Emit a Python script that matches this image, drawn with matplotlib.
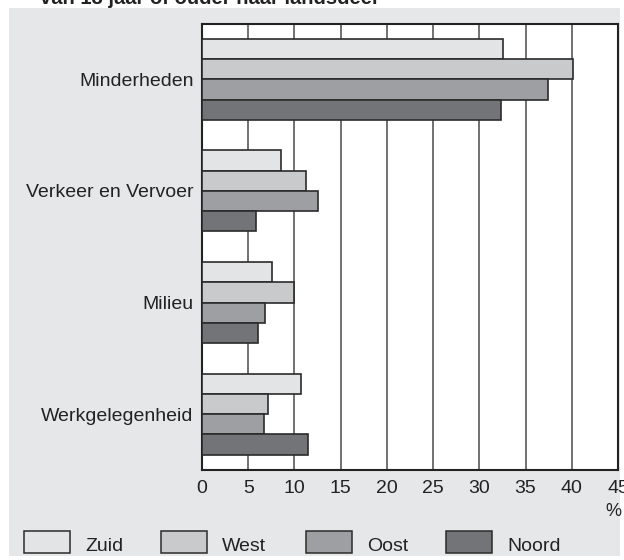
import matplotlib
matplotlib.use("Agg")
import matplotlib.pyplot as plt
from matplotlib.patches import Rectangle
import numpy as np

plt.rcParams['font.family'] = ['Liberation Sans', 'DejaVu Sans']

categories = ["Minderheden", "Verkeer en Vervoer", "Milieu", "Werkgelegenheid"]
series = ["Zuid", "West", "Oost", "Noord"]
zuid = [32.6, 8.5, 7.6, 10.7]
west = [40.1, 11.2, 10.0, 7.1]
oost = [37.4, 12.6, 6.8, 6.7]
noord = [32.3, 5.8, 6.1, 11.5]
values = [zuid, west, oost, noord]
xticks = [0, 5, 10, 15, 20, 25, 30, 35, 40, 45]
colors = ["#e3e4e6", "#c9cacc", "#9e9fa2", "#737477"]
title = "van 18 jaar of ouder naar landsdeel"

W, H = 624, 560
fig = plt.figure(figsize=(W / 100, H / 100), dpi=100)
fig.patch.set_facecolor("white")

# gray panel
fig.patches.append(Rectangle((9 / W, (H - 556) / H), (620 - 9) / W, (556 - 8) / H,
                             transform=fig.transFigure, facecolor="#e6e7e8",
                             edgecolor="none", zorder=-10))

left, right, top, bottom = 202, 618, 23.5, 470
ax = fig.add_axes([left / W, (H - bottom) / H, (right - left) / W, (bottom - top) / H])
ax.set_facecolor("white")

bh = 0.1815
y = np.arange(len(categories))
for i, (vals, c) in enumerate(zip(values, colors)):
    ax.barh(y + (i - 1.5) * bh, vals, height=bh, color=c, edgecolor="#2b2b2b",
            linewidth=1.2, zorder=3)

ax.set_xlim(0, 45)
ax.set_ylim(3.5, -0.5)
ax.set_xticks(xticks)
ax.set_xticklabels([str(t) for t in xticks], fontsize=14, color="#222222")
ax.set_yticks(y)
ax.set_yticklabels(categories, fontsize=14, color="#222222")
ax.tick_params(axis="both", length=0)
ax.tick_params(axis="x", pad=7)
ax.tick_params(axis="y", pad=6)
for t in xticks[1:-1]:
    ax.axvline(t, color="#4a4a4a", linewidth=1.1, zorder=1)
for s in ax.spines.values():
    s.set_color("#222222")
    s.set_linewidth(1.5)

# percent sign
fig.text(613 / W, 1 - 516 / H, "%", ha="center", va="baseline", fontsize=13, color="#222222")

# title (cut off at the top, as in the reference)
fig.text(40 / W, 1 - 4 / H, title, ha="left", va="baseline", fontsize=14.5,
         fontweight="bold", color="#222222")

# legend
box_x = [24, 161, 306, 446]
for bx, c, name in zip(box_x, colors, series):
    fig.patches.append(Rectangle((bx / W, 1 - 553 / H), 46 / W, 22 / H,
                                 transform=fig.transFigure, facecolor=c,
                                 edgecolor="#2b2b2b", linewidth=1.1))
    fig.text((bx + 61) / W, 1 - 551 / H, name, ha="left", va="baseline",
             fontsize=14, color="#222222")

fig.savefig("out.png", dpi=100)
